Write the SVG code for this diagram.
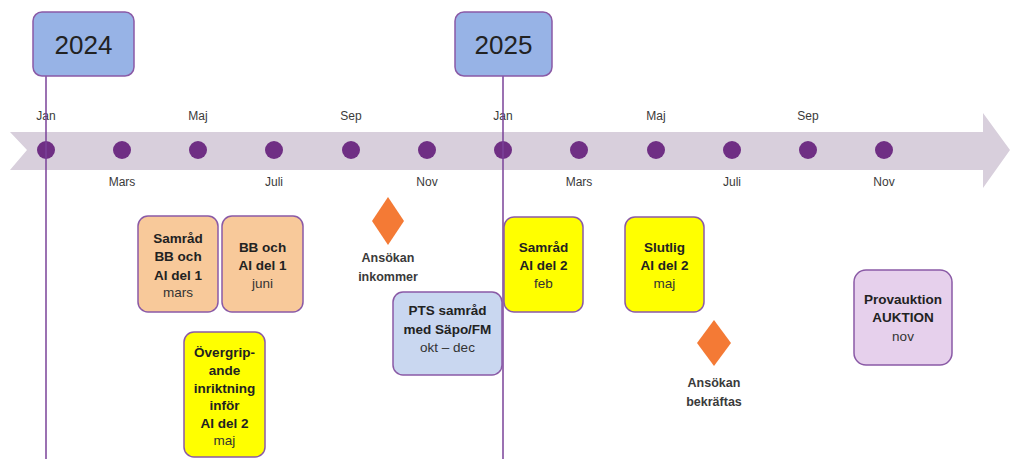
<svg xmlns="http://www.w3.org/2000/svg" width="1010" height="459" viewBox="0 0 1010 459">
<style>
text{font-family:"Liberation Sans",Arial,sans-serif;text-anchor:middle;dominant-baseline:central;fill:#2a2a2a}
.yr{font-size:26px;fill:#222}
.mo{font-size:12px;fill:#3a3a3a}
.b{font-size:13.5px;font-weight:bold;fill:#222}
.r{font-size:13.5px;fill:#333}
.lab{font-size:12.5px;font-weight:bold;fill:#3a3a3a}
.box{stroke:#8a5aa6;stroke-width:1.5}
.dot{fill:#6f2f84}
.vl{stroke:#7a4298;stroke-width:1.5;fill:none}
.dia{fill:#f47a35}
</style>
<g id="timeline">
<polygon points="10,132 983,132 983,113 1010,150 983,188 983,170 10,170 27,150" fill="#d8cfdc"/>
<circle class="dot" cx="46" cy="150" r="9"/>
<circle class="dot" cx="122" cy="150" r="9"/>
<circle class="dot" cx="198" cy="150" r="9"/>
<circle class="dot" cx="274" cy="150" r="9"/>
<circle class="dot" cx="351" cy="150" r="9"/>
<circle class="dot" cx="427" cy="150" r="9"/>
<circle class="dot" cx="503" cy="150" r="9"/>
<circle class="dot" cx="579" cy="150" r="9"/>
<circle class="dot" cx="656" cy="150" r="9"/>
<circle class="dot" cx="732" cy="150" r="9"/>
<circle class="dot" cx="808" cy="150" r="9"/>
<circle class="dot" cx="884" cy="150" r="9"/>
<text class="mo" x="46" y="116">Jan</text>
<text class="mo" x="198" y="116">Maj</text>
<text class="mo" x="351" y="116">Sep</text>
<text class="mo" x="503" y="116">Jan</text>
<text class="mo" x="656" y="116">Maj</text>
<text class="mo" x="808" y="116">Sep</text>
<text class="mo" x="122" y="182">Mars</text>
<text class="mo" x="274" y="182">Juli</text>
<text class="mo" x="427" y="182">Nov</text>
<text class="mo" x="579" y="182">Mars</text>
<text class="mo" x="732" y="182">Juli</text>
<text class="mo" x="884" y="182">Nov</text>
</g>
<g id="connectors">
<line class="vl" x1="46" y1="76" x2="46" y2="459"/>
<line class="vl" x1="503" y1="76" x2="503" y2="459"/>
</g>
<g id="year2024">
<rect class="box" x="33" y="12" width="101" height="64" rx="9" fill="#97b3e6"/>
<text class="yr" x="83.5" y="45">2024</text>
</g>
<g id="year2025">
<rect class="box" x="455" y="12" width="97" height="64" rx="9" fill="#97b3e6"/>
<text class="yr" x="503.5" y="45">2025</text>
</g>
<g id="samrad1">
<rect class="box" x="138" y="216" width="80" height="96" rx="10" fill="#f8c99a"/>
<text class="b" x="178" y="238">Samråd</text>
<text class="b" x="178" y="256.5">BB och</text>
<text class="b" x="178" y="275">AI del 1</text>
<text class="r" x="178" y="292.5">mars</text>
</g>
<g id="bbjuni">
<rect class="box" x="222" y="216" width="81" height="96" rx="10" fill="#f8c99a"/>
<text class="b" x="262.5" y="247">BB och</text>
<text class="b" x="262.5" y="265.5">AI del 1</text>
<text class="r" x="262.5" y="283">juni</text>
</g>
<g id="overgripande">
<rect class="box" x="184" y="332" width="81" height="125" rx="10" fill="#ffff00"/>
<text class="b" x="224.5" y="352">Övergrip-</text>
<text class="b" x="224.5" y="370">ande</text>
<text class="b" x="224.5" y="388">inriktning</text>
<text class="b" x="224.5" y="405.5">inför</text>
<text class="b" x="224.5" y="423">AI del 2</text>
<text class="r" x="224.5" y="440">maj</text>
</g>
<g id="ansokan1">
<polygon class="dia" points="388,197 404,221 388,245 372,221"/>
<text class="lab" x="388" y="258">Ansökan</text>
<text class="lab" x="388" y="277">inkommer</text>
</g>
<g id="pts">
<rect class="box" x="393" y="292" width="109" height="83" rx="10" fill="#c9d7f0"/>
<text class="b" x="447.5" y="310">PTS samråd</text>
<text class="b" x="447.5" y="329">med Säpo/FM</text>
<text class="r" x="447.5" y="347">okt – dec</text>
</g>
<g id="samrad2">
<rect class="box" x="504" y="217" width="79" height="95" rx="10" fill="#ffff00"/>
<text class="b" x="543.5" y="247">Samråd</text>
<text class="b" x="543.5" y="265">AI del 2</text>
<text class="r" x="543.5" y="283">feb</text>
</g>
<g id="slutlig">
<rect class="box" x="625" y="217" width="79" height="95" rx="10" fill="#ffff00"/>
<text class="b" x="664.5" y="247">Slutlig</text>
<text class="b" x="664.5" y="265">AI del 2</text>
<text class="r" x="664.5" y="283">maj</text>
</g>
<g id="ansokan2">
<polygon class="dia" points="714,320 731,343 714,366 697,343"/>
<text class="lab" x="714" y="383">Ansökan</text>
<text class="lab" x="714" y="402">bekräftas</text>
</g>
<g id="provauktion">
<rect class="box" x="854" y="270" width="98" height="95" rx="12" fill="#e6d0ec"/>
<text class="b" x="903" y="299">Provauktion</text>
<text class="b" x="903" y="317.5">AUKTION</text>
<text class="r" x="903" y="336">nov</text>
</g>
</svg>
